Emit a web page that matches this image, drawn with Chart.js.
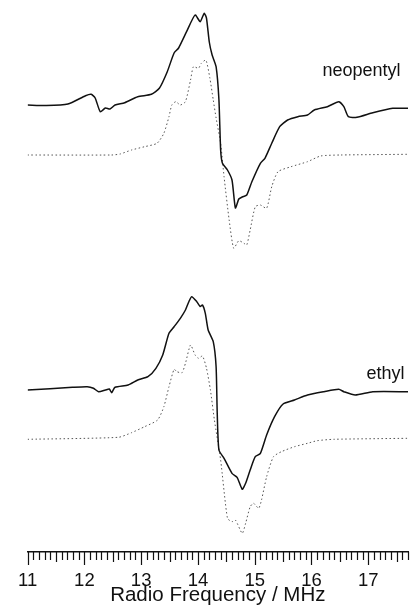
<!DOCTYPE html>
<html>
<head>
<meta charset="utf-8">
<script src="https://cdn.jsdelivr.net/npm/chart.js@4"></script>
<style>
  html, body { margin: 0; padding: 0; background: #fff; }
  canvas { display: block; }
</style>
</head>
<body>
<canvas id="chart-enmr" width="412" height="616"></canvas>
<script>
// ── Spectra ───────────────────────────────────────────────
// frequency in MHz, intensity in arbitrary units (traces are stacked)
const neoExpFreq = [11.0, 11.33, 11.71, 12.02, 12.12, 12.19, 12.28, 12.37, 12.45, 12.54, 12.71, 12.94, 13.18, 13.32, 13.46, 13.58, 13.66, 13.80, 13.95, 14.04, 14.11, 14.15, 14.20, 14.25, 14.32, 14.37, 14.40, 14.43, 14.52, 14.60, 14.66, 14.72, 14.78, 14.86, 14.95, 15.10, 15.18, 15.30, 15.44, 15.58, 15.76, 15.93, 16.05, 16.28, 16.48, 16.57, 16.65, 16.80, 17.08, 17.43, 17.70];
const neoExp = [447, 446.5, 448, 456.3, 457.7, 454, 440.3, 444, 443, 447, 449.3, 455.3, 457.7, 463.7, 480.3, 499, 504, 520.3, 537, 530.3, 538.7, 534, 510, 497, 485.3, 452, 402, 389, 382, 372, 344, 353, 355, 357, 370.3, 388.7, 393.7, 408.7, 425.3, 432, 435.3, 437, 442, 445.3, 450.3, 445.3, 435.3, 434.7, 439.3, 443.7, 443.7];

const neoSimFreq = [11.0, 12.48, 12.63, 12.83, 13.06, 13.28, 13.40, 13.49, 13.54, 13.61, 13.69, 13.78, 13.87, 13.92, 14.01, 14.06, 14.14, 14.21, 14.27, 14.32, 14.40, 14.46, 14.55, 14.63, 14.72, 14.81, 14.86, 14.92, 15.01, 15.10, 15.21, 15.30, 15.41, 15.64, 15.93, 16.16, 16.51, 17.70];
const neoSim = [397, 397, 398, 402, 405.3, 408.7, 418.7, 435.3, 447, 450.3, 447, 450.3, 472, 485.3, 483.7, 488.7, 492, 474, 452, 434, 408.7, 375.3, 332, 303.7, 311.3, 308.7, 307, 322, 345.3, 347, 343.7, 365.3, 380.3, 385.3, 390.3, 396, 397, 397.7];

const ethExpFreq = [11.0, 11.79, 12.05, 12.16, 12.25, 12.37, 12.44, 12.48, 12.54, 12.77, 12.94, 13.12, 13.26, 13.38, 13.49, 13.58, 13.69, 13.78, 13.84, 13.89, 13.98, 14.04, 14.08, 14.13, 14.18, 14.27, 14.32, 14.34, 14.37, 14.46, 14.60, 14.69, 14.78, 14.84, 14.92, 15.01, 15.10, 15.21, 15.35, 15.50, 15.70, 15.93, 16.22, 16.48, 16.57, 16.77, 17.08, 17.70];
const ethExp = [162, 164.7, 165.3, 163.7, 160.3, 162, 163, 159.3, 164.7, 167, 172, 175.3, 183.7, 197, 218.7, 225.3, 233.7, 242, 250.3, 255.3, 250.3, 245.5, 247, 238.7, 222, 210.3, 185.3, 138.7, 102, 93.7, 78.7, 74.7, 62.7, 68.7, 82, 95.3, 98.7, 117, 135.3, 148, 152, 157, 160.3, 162.7, 160.3, 157, 160.3, 160.3];

const ethSimFreq = [11.0, 12.60, 12.83, 13.06, 13.29, 13.40, 13.49, 13.58, 13.63, 13.72, 13.78, 13.87, 13.95, 14.01, 14.08, 14.15, 14.22, 14.29, 14.40, 14.52, 14.60, 14.66, 14.78, 14.84, 14.92, 14.98, 15.07, 15.12, 15.21, 15.33, 15.47, 15.70, 15.93, 16.10, 16.39, 17.70];
const ethSim = [112.7, 114.7, 119.3, 125.3, 132, 145.3, 165.3, 182.7, 180.3, 179.3, 188.7, 207, 197, 193.7, 196, 184, 162, 132, 92, 33.7, 30.3, 32, 18.7, 28.7, 45.3, 48.7, 43.7, 52, 75.3, 95.3, 100.3, 105.3, 108.7, 111.3, 112.7, 113.7];

const traceNames = ["neopentyl", "ethyl"];
const freqTicks = [11, 12, 13, 14, 15, 16, 17];

// ── Layout / style ───────────────────────────────────────
const FONT = "'Liberation Sans', Arial, Helvetica, sans-serif";
const X_MIN = 11, X_MAX = 17.70;
const NAME_ANCHORS = [{ x: 17.57, y: 476 }, { x: 17.64, y: 173 }];

const toXY = (xs, ys) => xs.map((x, i) => ({ x: x, y: ys[i] }));

const solid = { borderColor: "#111", borderWidth: 1.5, pointRadius: 0, tension: 0.2, fill: false };
const dotted = { borderColor: "#555", borderWidth: 1, borderDash: [1.5, 2.5], pointRadius: 0, tension: 0.2, fill: false };

// Tick marks under the axis line: 0.1 MHz minor, 0.5 MHz medium, 1 MHz major
const rulerTicks = {
  id: "rulerTicks",
  afterDraw(chart) {
    const { ctx } = chart;
    const sx = chart.scales.x;
    const y0 = sx.top;
    ctx.save();
    ctx.strokeStyle = "#111";
    ctx.lineWidth = 1.2;
    ctx.beginPath();
    for (let k = 0; k <= Math.round((X_MAX - X_MIN) * 10); k++) {
      const px = Math.round(sx.getPixelForValue(X_MIN + k / 10)) + 0.5;
      const len = k % 10 === 0 ? 13 : (k % 5 === 0 ? 10 : 8);
      ctx.moveTo(px, y0);
      ctx.lineTo(px, y0 + len);
    }
    ctx.stroke();
    ctx.restore();
  }
};

// Trace names at the right-hand side
const traceLabels = {
  id: "traceLabels",
  afterDraw(chart) {
    const { ctx } = chart;
    const sx = chart.scales.x, sy = chart.scales.y;
    ctx.save();
    ctx.fillStyle = "#111";
    ctx.font = "18px " + FONT;
    ctx.textAlign = "right";
    ctx.textBaseline = "alphabetic";
    traceNames.forEach((name, i) => {
      const a = NAME_ANCHORS[i];
      ctx.fillText(name, sx.getPixelForValue(a.x), sy.getPixelForValue(a.y));
    });
    ctx.restore();
  }
};

new Chart(document.getElementById("chart-enmr"), {
  type: "line",
  data: {
    datasets: [
      Object.assign({ label: "neopentyl", data: toXY(neoExpFreq, neoExp) }, solid),
      Object.assign({ label: "neopentyl sim", data: toXY(neoSimFreq, neoSim) }, dotted),
      Object.assign({ label: "ethyl", data: toXY(ethExpFreq, ethExp) }, solid),
      Object.assign({ label: "ethyl sim", data: toXY(ethSimFreq, ethSim) }, dotted)
    ]
  },
  plugins: [rulerTicks, traceLabels],
  options: {
    responsive: false,
    animation: false,
    events: [],
    layout: { padding: { left: 21, right: 4, top: 0, bottom: 0 } },
    plugins: { legend: { display: false }, tooltip: { enabled: false } },
    scales: {
      x: {
        type: "linear",
        min: X_MIN,
        max: X_MAX,
        grid: { display: false, drawTicks: false },
        border: { display: true, color: "#111", width: 1.5 },
        afterBuildTicks: s => { s.ticks = freqTicks.map(v => ({ value: v })); },
        afterFit: s => { s.height = 64; },
        ticks: {
          padding: 18,
          maxRotation: 0,
          autoSkip: false,
          color: "#111",
          font: { family: FONT, size: 18.5 }
        },
        title: {
          display: true,
          text: "Radio Frequency / MHz",
          color: "#111",
          padding: { top: 0, bottom: 8.5 },
          font: { family: FONT, size: 20.5 }
        }
      },
      y: {
        display: false,
        min: 0,
        max: 552
      }
    }
  }
});
</script>
</body>
</html>
